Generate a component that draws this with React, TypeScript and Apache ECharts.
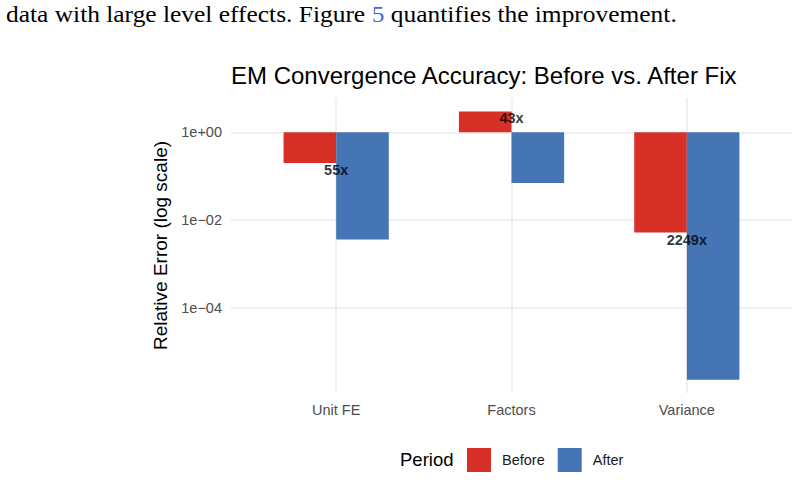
import React, { useEffect, useRef } from "react";
import * as echarts from "echarts";

// Relative error of each EM component, before and after the fix
const categories = ["Unit FE", "Factors", "Variance"];
const periods = ["Before", "After"];
const beforeError = [0.2, 3.0, 0.0052];
const afterError = [0.0036, 0.07, 0.0000023];
// Improvement factor printed next to each group
const improvement = [55, 43, 2249];
// Log-scale breaks shown on the y axis
const yBreaks = [1e-4, 1e-2, 1];

const periodColors = ["#D73027", "#4575B4"];
const SANS = "'Liberation Sans', Arial, Helvetica, sans-serif";
const SERIF = "'Liberation Serif', 'DejaVu Serif', serif";

const log10 = (v: number) => Math.log10(v);

const formatPower = (v: number) => {
  const e = Math.round(v);
  const sign = e < 0 ? "\u2212" : "+";
  return `1e${sign}${String(Math.abs(e)).padStart(2, "0")}`;
};

export default function App() {
  const ref = useRef<HTMLDivElement>(null);

  useEffect(() => {
    if (!ref.current) return;
    const chart = echarts.init(ref.current, undefined, { renderer: "svg" });

    const positions = categories.map((_, i) => i + 1);
    const series: any[] = [beforeError, afterError].map((vals, s) => ({
      name: periods[s],
      type: "bar",
      data: vals.map((v, i) => [positions[i], log10(v)]),
      barWidth: 52.6,
      barGap: "0%",
      itemStyle: { color: periodColors[s] },
      silent: true,
    }));

    series.push({
      name: "improvement",
      type: "scatter",
      data: beforeError.map((v, i) => [positions[i], log10(v)]),
      symbolSize: 1,
      itemStyle: { color: "rgba(0,0,0,0)" },
      silent: true,
      z: 5,
      label: {
        show: true,
        position: "bottom",
        distance: -1,
        formatter: (p: any) => `${improvement[p.dataIndex]}x`,
        fontFamily: SANS,
        fontWeight: "bold",
        fontSize: 14.5,
        color: "#000000",
      },
    });

    chart.setOption({
      animation: false,
      backgroundColor: "#ffffff",
      title: {
        text: "EM Convergence Accuracy: Before vs. After Fix",
        left: 231,
        top: 63,
        padding: 0,
        textStyle: {
          fontFamily: SANS,
          fontSize: 24,
          fontWeight: "normal",
          color: "#000000",
        },
      },
      legend: {
        data: periods,
        left: 467,
        top: 448,
        itemWidth: 24,
        itemHeight: 24,
        itemGap: 13,
        icon: "rect",
        selectedMode: false,
        padding: 0,
        textStyle: {
          fontFamily: SANS,
          fontSize: 14.5,
          color: "#1A1A1A",
          padding: [0, 0, 0, 6],
        },
      },
      grid: { left: 231, right: 6, top: 98, bottom: 103, containLabel: false },
      xAxis: {
        type: "value",
        min: 0.4,
        max: 3.6,
        axisLine: { show: false },
        axisTick: { show: false, customValues: positions },
        axisLabel: {
          customValues: positions,
          formatter: (v: number) => categories[Math.round(v) - 1] ?? "",
          fontFamily: SANS,
          fontSize: 14.5,
          color: "#4D4D4D",
          margin: 9,
        },
        splitLine: { show: true, lineStyle: { color: "#EBEBEB", width: 1.5 } },
      },
      yAxis: {
        type: "value",
        min: -5.942,
        max: 0.783,
        axisLine: { show: false },
        axisTick: { show: false, customValues: yBreaks.map(log10) },
        axisLabel: {
          customValues: yBreaks.map(log10),
          formatter: formatPower,
          fontFamily: SANS,
          fontSize: 14.5,
          color: "#4D4D4D",
          margin: 9,
        },
        splitLine: { show: true, lineStyle: { color: "#EBEBEB", width: 1.5 } },
        name: "Relative Error (log scale)",
        nameLocation: "middle",
        nameGap: 53,
        nameTextStyle: {
          fontFamily: SANS,
          fontSize: 19,
          color: "#000000",
        },
      },
      graphic: [
        {
          type: "text",
          left: 6,
          top: 2,
          scaleX: 1.06,
          style: {
            text: "data with large level effects. Figure {l|5} quantifies the improvement.",
            fontFamily: SERIF,
            fontSize: 24,
            fill: "#000000",
            rich: {
              l: { fontFamily: SERIF, fontSize: 24, fill: "#3D6FD6" },
            },
          },
        },
        {
          type: "text",
          left: 400,
          top: 450,
          style: {
            text: "Period",
            fontFamily: SANS,
            fontSize: 18.5,
            fill: "#000000",
          },
        },
      ],
      series,
    });

    return () => chart.dispose();
  }, []);

  return (
    <div
      ref={ref}
      style={{ position: "fixed", left: 0, top: 0, width: 798, height: 496 }}
    />
  );
}
